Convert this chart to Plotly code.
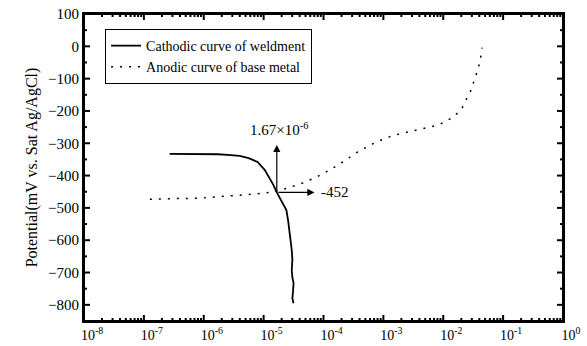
import plotly.graph_objects as go

# Cathodic curve of weldment (log10 current density, potential mV)
cath_logi = [-6.57, -6.2, -5.9, -5.77, -5.6, -5.40, -5.25, -5.10, -4.98, -4.90, -4.84, -4.78,
             -4.70, -4.62, -4.59, -4.57, -4.55, -4.53, -4.52, -4.53, -4.52, -4.50, -4.51, -4.52, -4.50]
cath_pot = [-333, -333, -333, -334, -336, -339, -346, -358, -383, -408, -428, -452,
            -480, -507, -540, -569, -600, -631, -660, -693, -715, -733, -760, -780, -795]

# Anodic curve of base metal
anod_logi = [-6.9, -6.65, -6.4, -6.07, -5.82, -5.57, -5.32, -5.15, -4.98, -4.78, -4.6, -4.35,
             -4.12, -3.9, -3.68, -3.43, -3.18, -2.95, -2.73, -2.52, -2.28, -2.07, -1.85,
             -1.7, -1.62, -1.53, -1.48, -1.42, -1.38, -1.35]
anod_pot = [-473, -473, -471, -470, -467, -464, -460, -457, -454, -448, -439, -423,
            -405, -383, -358, -327, -302, -283, -271, -262, -252, -243, -221,
            -197, -166, -134, -103, -72, -41, -4]

x_tickvals = [1e-8, 1e-7, 1e-6, 1e-5, 1e-4, 1e-3, 1e-2, 1e-1, 1e0]
x_ticktext = ["10<sup>-8</sup>", "10<sup>-7</sup>", "10<sup>-6</sup>", "10<sup>-5</sup>",
              "10<sup>-4</sup>", "10<sup>-3</sup>", "10<sup>-2</sup>", "10<sup>-1</sup>", "10<sup>0</sup>"]
x_minor = [m * 10.0 ** d for d in range(-8, 0) for m in range(2, 10)]
y_major = [-800, -700, -600, -500, -400, -300, -200, -100, 0, 100]
y_minor = [-850, -750, -650, -550, -450, -350, -250, -150, -50, 50]

icorr_label = "1.67×10<sup>-6</sup>"
ecorr_label = "-452"
icorr_log = -4.78
ecorr = -452

FONT = "Liberation Serif"
XR = [-8, 0]
YR = [-850, 100]

# frame + inward ticks built from the tick lists (in axis units)
W, H = 587 - 84 - 24, 346 - 14 - 25
dec_per_px = (XR[1] - XR[0]) / W
mv_per_px = (YR[1] - YR[0]) / H
xlo, xhi = 10 ** XR[0], 10 ** XR[1]
fx = [xlo, xhi, xhi, xlo, xlo, None]
fy = [YR[0], YR[0], YR[1], YR[1], YR[0], None]
for vals, ln in ((x_tickvals, 6), (x_minor, 3)):
    for v in vals:
        fx += [v, v, None, v, v, None]
        fy += [YR[0], YR[0] + ln * mv_per_px, None, YR[1], YR[1] - ln * mv_per_px, None]
for vals, ln in ((y_major, 6), (y_minor, 3)):
    for v in vals:
        fx += [xlo, xlo * 10 ** (ln * dec_per_px), None, xhi, xhi / 10 ** (ln * dec_per_px), None]
        fy += [v, v, None, v, v, None]

fig = go.Figure()
fig.add_trace(go.Scatter(
    x=[10 ** v for v in cath_logi], y=cath_pot, mode="lines",
    line=dict(color="black", width=1.8), name="Cathodic curve of weldment"))
fig.add_trace(go.Scatter(
    x=[10 ** v for v in anod_logi], y=anod_pot, mode="lines",
    line=dict(color="black", width=1.5, dash="2px,7px"), name="Anodic curve of base metal"))
fig.add_trace(go.Scatter(x=fx, y=fy, mode="lines", line=dict(color="#000000", width=2),
                         showlegend=False, hoverinfo="skip"))

# arrows
fig.add_annotation(x=icorr_log, y=-305, ax=icorr_log, ay=ecorr, xref="x", yref="y",
                   axref="x", ayref="y", showarrow=True, arrowhead=2, arrowsize=1.2,
                   arrowwidth=1.2, arrowcolor="black", text="")
fig.add_annotation(x=-4.15, y=ecorr, ax=icorr_log, ay=ecorr, xref="x", yref="y",
                   axref="x", ayref="y", showarrow=True, arrowhead=2, arrowsize=1.2,
                   arrowwidth=1.2, arrowcolor="black", text="")
fig.add_annotation(x=-4.75, y=-255, xref="x", yref="y", text=icorr_label, showarrow=False,
                   font=dict(family=FONT, size=15, color="black"))
fig.add_annotation(x=-4.08, y=ecorr, xref="x", yref="y", text=ecorr_label, showarrow=False,
                   xanchor="left", font=dict(family=FONT, size=15, color="black"))

fig.update_layout(
    width=587, height=346, margin=dict(l=84, r=24, t=14, b=25),
    paper_bgcolor="white", plot_bgcolor="white",
    font=dict(family=FONT, color="black"),
    xaxis=dict(type="log", range=XR, tickvals=x_tickvals, ticktext=x_ticktext,
               ticks="", showline=True, linecolor="black", linewidth=2, mirror=True,
               showgrid=False, zeroline=False, automargin=False, ticklabelshift=8,
               tickfont=dict(family=FONT, size=14, color="black")),
    yaxis=dict(range=YR, tickvals=y_major, ticks="", showline=True, linecolor="black",
               linewidth=2, mirror=True, showgrid=False, zeroline=False, automargin=False,
               tickfont=dict(family=FONT, size=15, color="black"),
               title=dict(text="Potential(mV vs. Sat Ag/AgCl)", standoff=6,
                          font=dict(family=FONT, size=16, color="black"))),
    legend=dict(x=0.044, y=0.951, xanchor="left", yanchor="top", bordercolor="black",
                borderwidth=1, bgcolor="white", tracegroupgap=0, itemwidth=30,
                font=dict(family=FONT, size=14, color="black")),
    showlegend=True)

fig.write_html("out.html")
